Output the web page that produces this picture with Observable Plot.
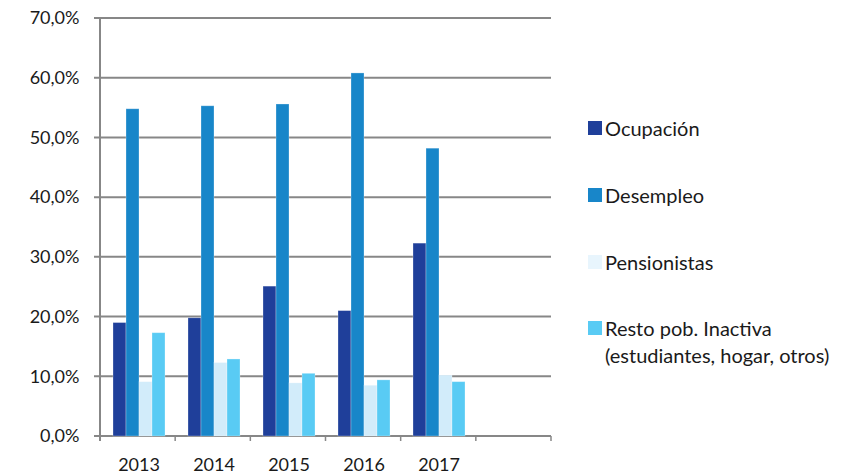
<!DOCTYPE html>
<html><head><meta charset="utf-8">
<script src="https://cdn.jsdelivr.net/npm/d3@7"></script>
<script src="https://cdn.jsdelivr.net/npm/@observablehq/plot@0.6"></script>
<style>
body{margin:0;background:#fff;font-family:Lato,"Open Sans",sans-serif;}
#wrap{position:relative;width:855px;height:475px;overflow:hidden;}
#wrap svg{position:absolute;left:0;top:0;}
.item{position:absolute;left:588px;display:flex;align-items:flex-start;font-size:20px;line-height:27px;color:#1a1a1a;}
.sw{width:14px;height:14px;margin-top:6.5px;margin-right:3px;flex:none;}
</style></head><body><div id="wrap"></div>
<script>
const years = ["2013","2014","2015","2016","2017"];
const emptySlot = " ";
const series = ["Ocupación","Desempleo","Pensionistas","Resto pob. Inactiva"];
const legendLabels = ["Ocupación","Desempleo","Pensionistas","Resto pob. Inactiva<br>(estudiantes, hogar, otros)"];
const ocupacion    = [19.0, 19.8, 25.1, 21.0, 32.3];
const desempleo    = [54.8, 55.3, 55.6, 60.8, 48.2];
const pensionistas = [9.1, 12.3, 8.9, 8.5, 10.2];
const resto        = [17.3, 12.9, 10.5, 9.4, 9.1];
const yTicks = [0, 10, 20, 30, 40, 50, 60, 70];
const barColors = ["#1f3f9a", "#1886c9", "#d2ecfa", "#59cbf4"];
const legendColors = ["#1f3f9a", "#1886c9", "#e8f5fd", "#59cbf4"];

const values = [ocupacion, desempleo, pensionistas, resto];
const rows = years.flatMap((yr, i) => series.map((s, j) => ({year: yr, serie: s, value: values[j][i]})));

const grey = "#878787";
const plot = Plot.plot({
  width: 855, height: 475,
  marginLeft: 100, marginRight: 304, marginTop: 18, marginBottom: 39,
  style: {fontFamily: "Lato, sans-serif", fontSize: "18px", color: "#1a1a1a", background: "white"},
  facet: {data: rows, x: "year"},
  fx: {domain: [...years, emptySlot], padding: 0, label: null, tickSize: 0, tickPadding: 22},
  x: {domain: series, padding: 0, paddingInner: 0, paddingOuter: 0.68, axis: null},
  y: {domain: [0, 70], ticks: yTicks, tickFormat: d => d.toFixed(1).replace(".", ",") + "%", tickSize: 0, tickPadding: 22, label: null},
  color: {domain: series, range: barColors},
  marks: [
    Plot.barY(rows, {x: "serie", y: "value", fill: "serie", inset: 0, stroke: "white", strokeOpacity: 0.35, strokeWidth: 0.8})
  ]
});
document.getElementById("wrap").appendChild(plot);

// grid, axis lines and category boundary ticks from Plot's own scales
const svg = d3.select(plot);
const fxs = plot.scale("fx");
const ys = plot.scale("y");
const band = d3.scaleBand().domain(fxs.domain).range(fxs.range).paddingInner(fxs.paddingInner ?? 0).paddingOuter(fxs.paddingOuter ?? 0);
const yScale = d3.scaleLinear().domain(ys.domain).range(ys.range);
const x0 = band.range()[0], x1 = band.range()[1];
const y0 = yScale(0);
const g = svg.insert("g", ":first-child").attr("stroke", grey);
svg.select("g").raise;
yTicks.forEach(t => g.append("line").attr("x1", x0 - 6).attr("x2", x1).attr("y1", yScale(t)).attr("y2", yScale(t)).attr("stroke-width", 2));
g.append("line").attr("x1", x0).attr("x2", x0).attr("y1", yScale(70)).attr("y2", y0 + 5).attr("stroke-width", 2);
const bounds = fxs.domain.map(d => band(d)).concat([x1]);
bounds.forEach(b => g.append("line").attr("x1", b).attr("x2", b).attr("y1", y0).attr("y2", y0 + 5).attr("stroke-width", 1.5));
// keep the white background rect (if any) beneath the grid
svg.selectAll("rect").filter(function(){ return this.parentNode === plot && !this.getAttribute("x"); }).lower();

const wrap = document.getElementById("wrap");
const tops = [114.5, 181.5, 248.5, 314.5];
legendLabels.forEach((lab, i) => {
  const d = document.createElement("div");
  d.className = "item";
  d.style.top = tops[i] + "px";
  d.innerHTML = `<span class="sw" style="background:${legendColors[i]}"></span><span>${lab}</span>`;
  wrap.appendChild(d);
});
</script>
</body></html>
